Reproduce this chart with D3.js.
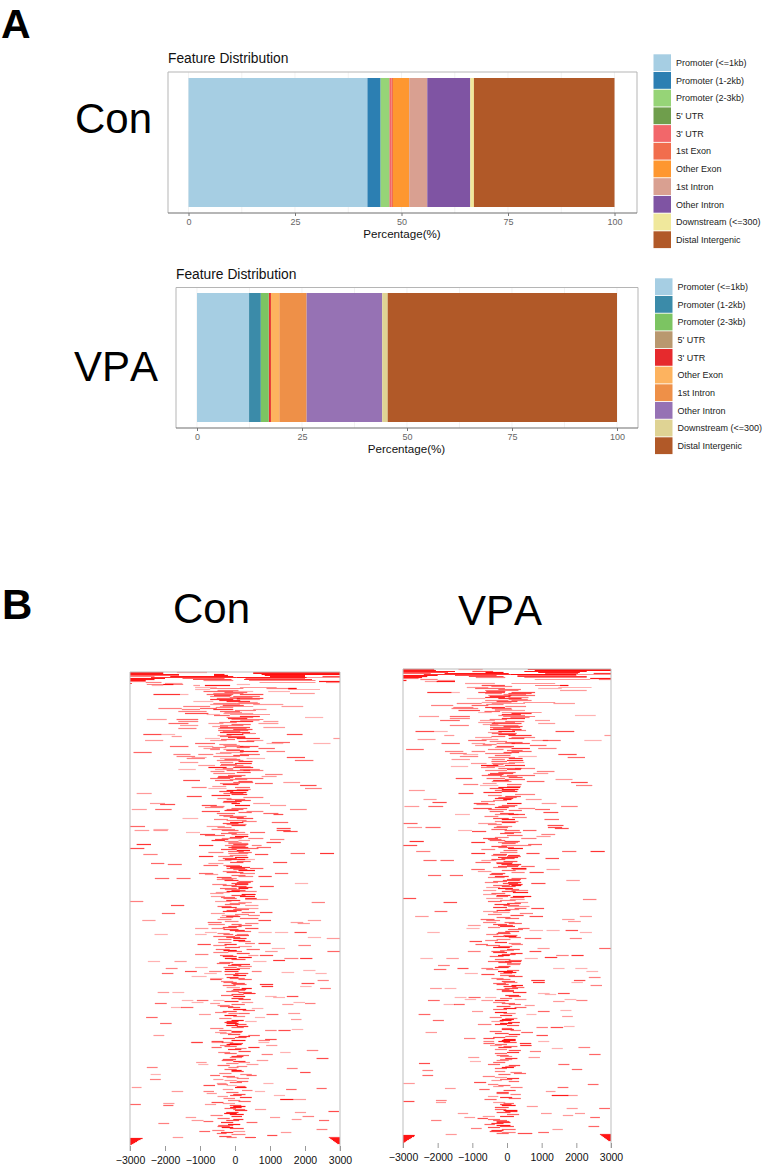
<!DOCTYPE html>
<html>
<head>
<meta charset="utf-8">
<script src="https://cdnjs.cloudflare.com/ajax/libs/d3/7.8.5/d3.min.js"></script>
<style>
html,body{margin:0;padding:0;background:#fff}
svg{display:block}
text{font-family:"Liberation Sans",Arial,sans-serif;font-kerning:none}
</style>
</head>
<body>
<svg id="fig" width="763" height="1167"></svg>
<script>
// Genomic feature shares, in percent of peaks
const conFeatures = ["Promoter (<=1kb)","Promoter (1-2kb)","Promoter (2-3kb)","5' UTR","3' UTR","1st Exon","Other Exon","1st Intron","Other Intron","Downstream (<=300)","Distal Intergenic"];
const conShares = [42,3.1,2,0.1,0.5,0.3,3.8,4.25,10.1,0.85,33];
const conColors = ["#a6cee3","#2c7fb2","#96d477","#6f9e4c","#f2676a","#f16d4d","#fe9730","#d9a091","#7f54a3","#f0e89c","#b15928"];

const vpaFeatures = ["Promoter (<=1kb)","Promoter (1-2kb)","Promoter (2-3kb)","5' UTR","3' UTR","Other Exon","1st Intron","Other Intron","Downstream (<=300)","Distal Intergenic"];
const vpaShares = [12.4,2.8,1.9,0.05,0.45,2,6.5,18,1.3,54.6];
const vpaColors = ["#a6cee3","#3b8ba9","#7cc462","#b9986f","#e62a2d","#fdb35f","#ee9048","#9672b4","#dfd394","#b15928"];

const shareTicks = [0,25,50,75,100];
const distanceTicks = [-3000,-2000,-1000,0,1000,2000,3000];

// Peak tracks around the TSS: [peak rank, start bp, end bp, signal]
const conPeaks = [
[0,-3000,-2050,.9],[0,-1660,-800,.4],[0,520,3000,.9],[1,-3000,-2050,.9],[1,520,3000,.9],[2,-3000,-1600,.9],[2,-600,-300,.9],[2,760,3000,.95],[3,-3000,-1600,.6],[3,-600,-200,.9],[3,850,2000,.9],[4,-3000,-2300,.5],[4,-1850,-50,.9],[4,1000,2000,.9],[4,2500,3000,.7],[5,-2400,50,.8],[5,50,2050,.9],[5,2050,3000,.4],[6,-3000,-2000,.9],[6,-1500,-300,.6],[6,300,2000,.6],[7,-3000,-2300,.9],[7,-1200,-100,.7],[7,260,2200,.8],[8,-3000,-2550,.9],[8,-900,-50,.5],[8,400,2300,.5],[9,-3000,-2550,.5],[9,2400,3000,.9],[10,-2550,-2100,.5],[10,700,2300,.4],[10,2600,3000,.4],[11,-3000,-2950,.9],[11,-2000,-1500,.4],
[12,-2520,-1480,.5],[12,-2050,-1760,.9],[12,50,430,.3],[13,-2380,-2050,.3],[13,-1190,-1000,.4],[13,-860,-140,.9],[15,-1140,-520,.3],[15,140,1190,.4],[16,900,1760,.5],[16,1520,1760,.9],[16,-710,240,.5],[17,1520,2430,.3],[17,-1140,-710,.3],[19,-900,-50,.6],[19,-50,520,.3],[19,950,1570,.3],[21,-620,240,.5],[21,1570,2280,.4],[22,-2330,-1570,.8],[22,-1570,-1330,.3],[22,-810,-50,.6],[22,140,810,.7],[24,-710,-140,.5],[24,-50,710,.6],[26,-520,140,.6],[26,50,810,.7],[27,-710,-50,.8],[27,50,710,.4],[29,-1190,-620,.3],[29,-240,430,.8],[31,-620,50,.5],[31,50,710,.5],[32,-710,140,.4],[32,520,1380,.4],[34,-1480,-710,.5],[34,-430,520,.4],[34,1330,1950,.4],[36,-2190,-1520,.5],[36,-1000,-520,.6],[37,-1520,-1000,.5],[37,-620,-50,.8],[37,520,900,.4],[39,-1620,-810,.5],[39,-430,140,.6],[41,-1430,-760,.7],[41,-330,520,.4],[42,-810,-430,.3],[42,-140,1000,.4],[44,140,710,.8],[45,2000,2520,.3],[45,-240,520,.5],[47,-2520,-1950,.4],[47,-1670,-1050,.6],[47,-100,810,.5],[49,-1620,-1050,.5],[49,-140,520,.8],[49,810,1240,.4],[51,-1900,-1330,.6],[51,-760,-330,.4],[51,670,1240,.4],[53,-1570,-1050,.4],[53,-430,240,.5],[55,-430,430,.7],[55,810,1430,.4],[56,-1620,-1100,.5],[56,-480,330,.5],[58,-480,380,.6],[60,-430,430,.8],[62,-2620,-2100,.7],[62,-2100,-1710,.3],[62,1480,1930,.7],[62,-240,240,.9],[64,-430,290,.6],[64,-1810,-1520,.4],[66,-860,-430,.3],[66,50,710,.8],[66,2810,3000,.4],[68,-2570,-2050,.4],[68,-710,-240,.4],[68,330,810,.4],[70,1050,1570,.6],[71,-1140,-570,.6],[71,2240,2730,.3],[71,900,1380,.3],[73,-330,140,.4],[74,-1860,-1330,.6],[74,-1050,-620,.4],[74,-290,240,.5],[74,140,670,.7],[76,-900,-430,.4],[76,670,1140,.6],[77,-710,-430,.5],[77,-330,140,.4],[79,140,670,.8],[79,900,1430,.5],[80,-2900,-2380,.6],[80,-430,240,.4],[82,-1760,-1270,.5],[82,-1050,-620,.5],[82,140,710,.6],[84,-620,140,.5],[84,-1670,-1140,.5],[85,1480,2000,.7],[85,-1240,-810,.3],[86,-1380,-860,.5],[86,330,860,.3],[86,-430,50,.3],[88,1710,2240,.6],[88,-520,240,.5],[90,-1570,-1050,.4],[90,-430,-50,.5],[91,0,480,.8],[93,-1050,-570,.4],[93,-430,240,.5],[95,-760,-240,.9],[95,-50,520,.8],[97,-1620,-1120,.3],[97,-570,-50,.4],[97,140,710,.5],[98,-240,430,.6],[98,240,810,.5],[101,-620,0,.5],[102,860,1360,.5],[104,-480,190,.7],[104,760,1190,.4],[106,-710,-140,.6],[106,0,810,.6],[108,-1480,-1000,.7],[108,-570,-50,.6],[110,1380,1860,.4],[110,-50,520,.6],[111,-430,140,.5],[111,570,1080,.6],[113,1860,2330,.7],[115,-1240,-810,.5],[115,0,430,.6],[116,-760,-240,.3],[116,2000,2480,.5],[118,-240,380,.9],[120,-140,330,.9],[121,-2810,-2380,.4],[121,-330,240,.6],[123,-670,-140,.8],[124,-1380,-950,.7],[125,240,810,.5],[127,-240,290,.6],[129,-330,190,.8],[131,-2430,-2000,.4],[131,520,1000,.4],[131,-100,140,.9],[132,-2140,-1710,.7],[133,-950,-520,.7],[133,0,430,.9],[133,1000,1460,.4],[135,-860,-330,.5],[137,-2950,-2520,.4],[137,-2280,-1810,.6],[137,1570,2050,.5],[137,-240,240,.6],[139,-950,-430,.7],[139,330,810,.5],[141,810,1240,.6],[141,-520,0,.6],[142,1100,1380,.7],[144,-330,330,.5],[146,-1500,-1050,.3],[146,50,520,.7],[148,-240,330,.5],[150,1050,1520,.6],[150,-140,240,.9],[152,-240,330,.5],[154,-3000,-2570,.6],[154,-810,-290,.4],[156,1190,1590,.7],[157,-2330,-1900,.3],
[157,-670,0,.5],[158,-2870,-2450,.4],[158,-2330,-1920,.4],[158,-380,100,.6],[158,1190,1590,.7],[159,1380,1790,.7],[160,-190,290,.5],[160,-1400,-1000,.3],[160,430,860,.6],[162,-1000,-570,.7],[162,-100,380,.5],[163,-860,-290,.6],[164,0,380,.9],[166,-380,190,.5],[166,380,810,.5],[167,-570,-190,.7],[167,1000,1410,.5],[168,-670,-290,.8],[168,100,430,.4],[170,900,1310,.7],[170,-190,190,.4],[171,-190,380,.5],[172,-2810,-2400,.8],[172,-50,380,.7],[173,-1030,-620,.8],[173,-290,330,.5],[173,480,760,.5],[175,-190,380,.8],[175,620,1030,.6],[176,-3000,-2590,.7],[176,-100,670,.6],[178,50,430,.9],[180,-760,-330,.5],[180,100,480,.6],[181,-190,380,.5],[181,1590,2000,.6],[181,2430,2830,.8],[182,-2620,-2210,.5],[182,570,950,.7],[184,-1030,-620,.8],[184,-480,-50,.5],[185,0,380,.9],[187,-290,290,.8],[187,100,570,.3],[188,-480,-100,.4],[190,1090,1490,.7],[190,-140,240,.7],[191,-2400,-2020,.6],[191,-760,-330,.4],[192,-1920,-1520,.6],[193,-900,-480,.6],[193,-330,140,.5],[195,-140,430,.8],[196,-240,290,.7],[196,430,810,.6],[198,100,570,.9],[200,-240,240,.7],[201,-1030,-620,.6],[201,140,570,.5],[201,1140,1520,.6],[202,-860,-480,.4],[204,670,1050,.7],[204,100,520,.5],[205,-520,-100,.7],[206,-2290,-1880,.6],[206,-1670,-1270,.6],[206,-380,50,.5],[207,-520,-50,.5],[209,100,520,.6],[211,1710,2090,.3],[211,-100,380,.7],[212,-650,-240,.5],[212,0,380,.8],[214,710,1110,.7],[214,-100,330,.7],[216,-430,50,.6],[216,100,380,.9],[217,-290,140,.5],[219,-240,140,.9],[219,140,620,.5],[221,-710,-330,.4],[222,190,590,.9],[224,-690,-290,.4],[224,140,570,.9],[226,-330,50,.6],[226,290,620,.8],[227,290,950,.4],[229,-3000,-2620,.5],[229,-570,-100,.4],[230,100,480,.4],[230,2190,2570,.5],[232,-290,140,.6],[233,-1830,-1450,.7],[233,290,670,.4],[235,-380,50,.8],[236,0,670,.4],[238,-240,190,.7],[240,710,1070,.7],[240,190,570,.6],[241,-2090,-1710,.6],[241,-690,-290,.4],[243,-380,100,.4],[243,380,710,.5],[245,-430,-50,.5],[246,140,670,.6],[248,-2650,-2270,.4],[248,2080,2460,.4],[248,670,1030,.7],[249,-290,100,.5],[250,-780,-380,.6],[250,1590,1950,.4],[251,290,670,.5],[251,1790,2140,.4],[252,-760,-290,.5],[252,-100,190,.6],[254,-190,190,.7],[256,-670,-290,.5],[256,290,670,.7],[256,-1140,-760,.4],[257,-330,100,.7],[259,0,460,.6],[260,-860,-520,.3],[260,670,1050,.3],[260,1140,1520,.3],[260,1700,2050,.7],[262,-1140,-810,.3],[262,-330,-50,.6],[262,50,380,.5],[262,-2300,-1920,.3],
[264,-620,0,.6],[265,2080,2460,.3],[266,2620,3000,.4],[266,-50,330,.8],[267,-480,-100,.6],[268,-50,290,.9],[270,-480,-100,.5],[271,670,1020,.7],[271,290,570,.5],[272,-1070,-690,.7],[273,-620,-240,.5],[273,1810,2170,.5],[274,100,480,.4],[275,-290,140,.7],[276,1050,1430,.3],[277,330,710,.6],[278,-330,50,.9],[279,860,1220,.4],[279,2640,3000,.6],[280,-620,-190,.5],[282,-1140,-760,.5],[283,-430,-50,.6],[283,710,1090,.7],[283,380,670,.4],[285,100,480,.9],[286,1410,1810,.5],[286,1860,2210,.8],[286,-290,50,.9],[288,1090,1430,.8],[289,-2490,-2140,.3],[289,-1730,-1380,.4],[289,520,900,.3],[291,-520,-140,.6],[292,-100,430,.8],[294,100,480,.5],[295,-1140,-780,.3],[295,-330,50,.6],[296,-1980,-1640,.5],[297,-290,140,.9],[298,1950,2300,.3],[299,-1430,-1090,.7],[299,-740,-380,.5],[299,480,760,.5],[300,1330,1690,.3],[301,-880,-520,.3],[301,0,380,.7],[301,-2090,-1760,.6],[301,2300,2620,.3],[302,-290,100,.6],[304,-1240,-810,.3],[305,-240,100,.8],[306,-710,-330,.3],[307,-710,-380,.7],[307,100,480,.6],[308,2360,2680,.5],[310,-330,50,.6],[311,1900,2270,.7],[312,710,1090,.8],[312,-50,330,.6],[314,1860,2190,.3],[314,760,1090,.8],[315,-240,140,.4],[316,2430,2740,.5],[316,190,480,.9],[318,-100,290,.5],[320,-2210,-1880,.4],[320,-1790,-1450,.3],[320,100,480,.7],[321,240,590,.8],[324,-50,290,.9],[324,1480,1810,.7],[324,860,1190,.3],[325,1090,1430,.3],[326,-100,240,.8],[328,-1520,-1190,.3],[328,-1090,-760,.6],[328,-620,-300,.3],[330,-1240,-900,.3],[330,190,520,.4],[330,1670,2000,.3],[331,-2290,-1950,.6],[331,-710,-430,.4],[331,2000,2300,.5],[332,1350,1670,.4],[334,-430,-50,.6],[335,-1830,-1520,.3],[335,-1540,-1190,.6],[336,480,810,.3],[338,220,570,.6],[340,-570,-240,.5],[341,1520,1860,.4],[341,-190,100,.5],[342,-1030,-690,.4],[342,900,1240,.6],[344,-50,290,.5],[345,-2540,-2210,.6],[345,570,860,.3],[347,1600,1900,.4],[349,-240,100,.8],[349,290,620,.3],[351,-2140,-1810,.6],[351,-240,100,.9],[354,50,380,.8],[356,-710,-330,.5],[357,1620,1950,.3],[358,1240,1590,.7],[358,860,1190,.5],[360,-570,-240,.4],[360,-100,190,.6],[361,-430,-100,.4],[363,-2330,-2020,.4],[363,380,710,.6],[365,0,330,.7],[367,860,1190,.7],[368,670,1000,.5],[369,-670,-330,.7],[370,-1240,-920,.5],[370,-380,-50,.5],
[370,-1260,-920,.5],[370,-670,-330,.4],[370,670,980,.3],[372,-240,100,.9],[372,-190,190,.9],[373,-430,-140,.5],[373,890,1210,.4],[375,-670,-380,.6],[375,380,700,.8],[376,0,330,.5],[378,2050,2380,.5],[380,-480,-140,.5],[380,1290,1590,.3],[382,760,1080,.5],[384,-100,240,.8],[386,2330,2670,.7],[388,-380,-50,.6],[388,620,950,.4],[390,-1110,-810,.4],[390,100,430,.4],[392,-1050,-760,.3],[392,330,670,.4],[395,-2520,-2210,.5],[395,-190,100,.5],[396,1480,1790,.5],[398,-100,190,.9],[400,1860,2160,.7],[402,-2410,-2120,.3],[403,-710,-430,.6],[403,330,620,.6],[405,-240,100,.4],[407,-2430,-2120,.5],[407,-620,-330,.4],[409,50,380,.6],[411,810,1100,.3],[411,-520,-240,.4],[413,-900,-570,.7],[413,-240,50,.3],[415,-2950,-2670,.4],[415,0,330,.9],[416,2330,2620,.6],[417,1460,1760,.6],[419,-1810,-1480,.4],[419,-900,-600,.5],[419,570,860,.3],[421,-810,-520,.4],[423,1110,1430,.3],[423,-140,190,.7],[425,140,480,.8],[426,-330,0,.5],[427,1290,1670,.9],[427,1670,2030,.4],[430,-670,-330,.7],[431,-2050,-1730,.4],[432,-3000,-2690,.6],[432,-860,-540,.4],[433,-2050,-1760,.6],[435,-140,190,.9],[437,570,890,.4],[437,-50,290,.6],[439,2670,2970,.7],[440,1710,2030,.4],[441,-310,50,.9],[444,1930,2260,.5],[445,-1410,-1110,.4],[445,1000,1290,.4],[447,1620,1900,.4],[447,-50,240,.8],[448,2400,2690,.6],[448,-1240,-900,.4],[449,-900,-620,.6],[450,330,640,.6],[451,-2190,-1880,.5],[453,-480,-50,.6],[455,-380,-50,.9],[457,2330,2640,.5],[459,-1020,-710,.6],[459,-50,290,.4],[460,1310,1610,.4],[461,-520,-240,.6],[463,920,1210,.7],[465,290,600,.7],[465,-1780,-1480,.4],[465,-240,50,.5],
[465,2680,3000,.7],[466,-3000,-2640,.9],[466,2720,3000,.9],[467,-3000,-2700,.9],[467,2760,3000,.9],[468,-3000,-2760,.9],[468,2800,3000,.9],[469,-3000,-2800,.9],[469,2840,3000,.9],[470,-3000,-2850,.9],[470,2880,3000,.9],[471,-3000,-2900,.9],[471,2920,3000,.9],[472,-3000,-2950,.9]
];

// Densely packed peaks close to the TSS
const conCore = [
[18,-500,100,.5],[20,-300,350,.6],[23,-600,-100,.7],[25,-150,500,.5],[28,-450,150,.8],[30,100,650,.4],[33,-350,250,.7],[35,-550,-50,.5],[38,0,600,.5],[40,-300,200,.4],[43,-600,-150,.6],[46,-200,350,.8],[48,150,700,.4],[50,-450,50,.5],[52,-100,450,.6],[54,-650,-200,.4],[57,-50,500,.7],[59,-350,150,.5],[61,200,600,.5],[63,-500,-100,.4],[65,-200,300,.8],[67,-400,0,.6],[69,100,550,.7],[72,-450,50,.5],[75,-650,-250,.5],[75,50,420,.6],[78,-250,250,.7],[81,-550,-100,.4],[83,-50,400,.7],[87,-300,150,.6],[89,100,500,.8],[92,-400,50,.6],[94,0,450,.4],[96,-350,-50,.5],[99,-700,-300,.5],[100,50,450,.7],[103,-200,300,.6],[105,-500,-50,.7],[107,-150,350,.5],[109,100,500,.7],[112,-350,100,.8],[114,-650,-250,.4],[117,50,450,.5],[119,-450,-50,.7],[122,-100,350,.8],[126,-500,-100,.5],[128,0,450,.7],[130,-350,50,.5],[134,-700,-300,.5],[136,-100,350,.6],[138,-300,100,.8],[140,100,480,.6],[143,-450,-50,.6],[145,-150,250,.7],[147,-600,-200,.5],[149,200,620,.5],[151,-350,100,.7],[153,-100,300,.8],[155,-500,-100,.5],
[161,-400,50,.6],[165,-150,250,.7],[169,-300,100,.5],[174,-100,300,.6],[177,-400,50,.7],[179,-200,250,.6],[183,-150,350,.5],[186,-350,50,.7],[189,50,450,.6],[194,-250,200,.8],[197,-50,350,.6],[199,-350,50,.5],[203,-100,300,.6],[208,-300,100,.8],[210,50,450,.7],[213,-350,50,.6],[215,100,500,.8],[218,-100,300,.7],[220,-550,-150,.4],[223,-100,300,.7],[225,-400,0,.6],[228,-250,150,.8],[231,-150,300,.5],[234,-500,-100,.6],[237,-50,400,.6],[239,-350,50,.8],[242,0,400,.5],[244,-250,150,.8],[247,-500,-100,.5],[253,100,480,.6],[255,-350,50,.7],[258,-150,280,.8],[261,-500,-150,.5],[263,0,400,.7],[265,-250,150,.7],[269,100,450,.6],[272,-300,50,.8],
[277,-550,-150,.6],[279,-200,200,.6],[281,50,420,.7],[284,-350,50,.8],[287,-100,300,.7],[290,-450,-50,.6],[293,-200,180,.7],[296,50,430,.5],[299,-300,100,.8],[303,-50,320,.9],[306,-150,280,.6],[309,-400,-50,.5],[311,-100,280,.7],[313,-350,20,.6],[317,-50,320,.8],[319,-250,120,.6],[322,-100,250,.7],[323,-400,-50,.6],[327,100,450,.7],[329,-300,100,.8],[332,-100,280,.6],[333,-500,-150,.5],[335,-200,150,.7],[337,-50,320,.9],[339,-350,50,.7],[341,100,420,.6],[343,-300,50,.9],[346,-450,-100,.5],[348,-100,250,.9],[350,-300,50,.8],[352,0,330,.7],[353,-250,80,.9],[355,-100,250,.6],[358,-450,-100,.6],[359,-100,220,.8],[362,-200,150,.7],[364,100,430,.8],[366,-350,0,.7],[368,-100,300,.9],
[371,-150,230,.7],[374,-300,50,.6],[377,-200,180,.8],[379,100,450,.7],[381,-300,50,.6],[383,50,400,.6],[385,-150,200,.5],[387,-350,30,.7],[389,-50,300,.8],[391,-250,100,.5],[393,-500,-150,.6],[394,50,350,.5],[397,-300,50,.6],[399,-100,250,.7],[401,-450,-100,.5],[402,150,480,.5],[404,-350,0,.6],[406,50,400,.5],[408,-300,50,.4],[410,-150,200,.6],[412,-500,-200,.5],[414,50,300,.6],[417,-350,-50,.4],[418,200,500,.5],[420,-250,100,.6],[422,-50,300,.7],[424,-500,-200,.4],[428,-200,150,.5],[429,100,450,.6],[431,-350,0,.4],[433,-150,180,.7],[434,-50,300,.9],[436,-300,30,.6],[438,0,350,.8],[440,-250,100,.8],[442,-150,250,.9],[443,-700,-350,.5],[444,-100,200,.8],[446,-500,-150,.6],[448,-250,120,.7],[450,-400,-50,.8],[452,-200,150,.9],[454,-500,-150,.6],[456,-150,250,.7],[458,-650,-300,.5],[460,-400,-50,.8],[462,-100,300,.5],[464,-450,-100,.7]
];

const vpaPeaks = [
[0,-3000,-2100,.9],[0,-1400,-700,.4],[0,600,3000,.95],[1,-3000,-2050,.9],[1,800,3000,.95],[2,-3000,-1500,.9],[2,-1000,-400,.7],[2,500,2300,.9],[3,-3000,-1700,.7],[3,-620,-100,.95],[3,900,2100,.9],[4,-3000,-2200,.6],[4,-1800,50,.9],[4,1100,2050,.7],[4,2500,3000,.8],[5,-2400,100,.8],[5,100,2000,.95],[5,2000,3000,.4],[6,-3000,-2000,.9],[6,-1500,-300,.7],[6,300,2000,.6],[7,-3000,-2300,.9],[7,-1100,-100,.7],[7,300,2300,.8],[8,-3000,-2450,.9],[8,-900,-50,.5],[8,500,2300,.5],[9,-3000,-2550,.5],[9,2400,3000,.9],[10,-2500,-2000,.5],[10,800,2400,.4],[10,2650,3000,.5],[11,-3000,-2900,.9],[11,-2000,-1500,.4],
[12,-2030,-1500,.9],[12,-2370,-1980,.4],[14,-1210,-350,.4],[14,130,1390,.4],[16,-730,-60,.7],[16,810,1770,.5],[16,1530,1770,.9],[18,-1160,-540,.4],[18,1480,2440,.3],[19,-920,-60,.6],[19,900,1580,.3],[21,-630,330,.5],[21,1530,2300,.4],[23,-2300,-1600,.8],[23,-1600,-1360,.3],[23,-830,-60,.7],[23,130,810,.7],[24,-630,-150,.5],[24,40,710,.7],[26,-540,130,.5],[26,40,810,.6],[28,-630,-60,.8],[28,40,620,.5],[29,-1160,-630,.3],[29,-250,420,.8],[31,-630,40,.5],[31,130,710,.5],[33,-730,130,.4],[33,470,1390,.4],[34,-1450,-730,.5],[34,-440,520,.4],[34,1340,1960,.4],[36,-2190,-1550,.5],[36,-1020,-540,.6],[38,-1550,-970,.5],[38,-630,-60,.8],[39,-1600,-830,.5],[39,-440,130,.6],[41,-1400,-780,.7],[41,-350,520,.4],[43,-830,-440,.3],[43,-150,1000,.4],[44,130,710,.8],[46,1960,2560,.3],[46,-250,520,.5],[47,-2540,-1960,.4],[47,-1650,-1070,.6],[47,-110,810,.5],[49,-1650,-1070,.5],[49,-150,520,.8],[51,-1930,-1360,.6],[51,810,1240,.4],[51,-780,-350,.4],[53,-830,-350,.4],[53,-390,230,.5],[54,900,1390,.4],[54,-440,420,.7],[56,-1650,-1100,.5],[56,-490,330,.5],[58,-490,380,.6],[60,-490,420,.8],[62,-2640,-2100,.7],[62,-2100,-1710,.3],[62,1400,1940,.7],[62,-250,230,.9],[64,-440,280,.6],[66,-1810,-1520,.4],[66,40,710,.8],[66,2810,3000,.4],[68,-920,-440,.4],[68,130,810,.5],[70,-2580,-2060,.4],[70,-730,-250,.4],[71,1030,1550,.6],[71,-1120,-590,.6],[71,2230,2730,.3],[71,710,1190,.4],[74,-1890,-1360,.6],[74,-1020,-630,.4],[74,-300,230,.5],[74,130,660,.7],[76,-920,-440,.4],[76,660,1140,.6],[78,-350,130,.4],[79,900,1430,.5],[79,130,660,.8],[80,-2910,-2400,.6],[82,-1790,-1260,.5],[82,-1020,-630,.5],[82,130,710,.6],[84,-630,130,.5],[84,-1650,-1160,.5],[85,1480,2010,.7],[85,-1260,-830,.3],[87,-1360,-830,.5],[87,330,860,.3],[88,1750,2250,.6],[88,-540,230,.5],[90,-1600,-1070,.4],[90,-440,-60,.5],[91,0,470,.8],[94,-1040,-590,.4],[94,-440,230,.5],[96,-750,-250,.9],[96,-60,520,.8],[97,-1620,-1120,.3],[97,-590,-60,.4],[99,-250,420,.6],[99,230,810,.5],[101,-630,0,.5],[102,860,1370,.5],[104,-490,180,.7],[104,760,1190,.4],[106,-730,-150,.6],[106,0,810,.6],[109,-1480,-1000,.7],[109,-590,-60,.6],[110,1400,1890,.4],[110,-60,520,.6],[112,-440,130,.5],[112,570,1080,.6],[113,1850,2330,.7],[115,-1260,-830,.5],[115,0,420,.6],[116,-780,-250,.3],[116,1990,2460,.5],[118,-250,380,.9],[120,-150,330,.9],[121,-2830,-2370,.4],[121,-350,230,.6],[123,-680,-150,.8],[124,-1400,-970,.7],[125,230,810,.5],[128,-250,280,.6],[129,-350,180,.8],[130,-2410,-2030,.4],[130,540,1000,.4],[130,-110,130,.9],[133,-2150,-1740,.7],[134,-960,-540,.7],[134,0,420,.9],[134,1000,1430,.4],[135,-880,-350,.5],[137,-2960,-2530,.4],[137,-2270,-1840,.6],[137,1560,2040,.5],[137,-250,230,.6],[139,-970,-440,.7],[139,330,810,.5],[140,810,1240,.6],[140,-540,0,.6],[143,1050,1480,.7],[145,-350,330,.5],[145,-1500,-1070,.3],[145,40,520,.7],[150,1080,1500,.6],[150,-150,230,.9],[152,-350,330,.5],[154,-2990,-2580,.6],[154,-830,-300,.4],[156,1170,1630,.7],[158,-2350,-1930,.3],
[158,-2880,-2450,.4],[158,-2350,-1910,.4],[158,-380,30,.6],[158,1180,1590,.7],[159,1380,1780,.7],[161,-1410,-1010,.3],[161,460,850,.6],[161,-70,370,.6],[162,-1010,-600,.7],[163,-70,410,.6],[165,990,1390,.5],[167,850,1260,.4],[169,-690,-260,.7],[169,410,850,.5],[170,-550,-160,.6],[172,-2810,-2400,.8],[172,-70,370,.7],[173,-1030,-630,.8],[173,-260,320,.5],[175,610,1010,.6],[176,-3000,-2590,.7],[176,-160,700,.5],[179,30,460,.9],[180,-740,-340,.5],[182,1590,2000,.6],[182,2410,2820,.8],[182,-2620,-2210,.5],[184,-1030,-630,.8],[184,560,940,.7],[186,-450,-20,.5],[186,30,370,.8],[188,-260,320,.8],[189,1110,1500,.7],[189,-160,220,.7],[191,-2410,-2030,.6],[191,-740,-310,.4],[191,-1920,-1530,.6],[193,-910,-470,.6],[193,-310,170,.5],[195,-160,410,.8],[197,410,800,.6],[197,-260,320,.7],[199,130,560,.9],[200,-1030,-640,.6],[200,170,560,.5],[200,1140,1520,.4],[202,-840,-450,.4],[203,650,1060,.7],[203,130,510,.5],[205,-500,-120,.7],[206,-2280,-1900,.6],[206,-1650,-1270,.6],[208,-550,-70,.5],[209,130,560,.6],[211,1710,2100,.4],[211,-120,370,.7],[213,-640,-260,.5],[213,30,410,.8],[214,700,1110,.7],[214,-120,320,.7],[216,-400,80,.6],[216,130,410,.9],[219,-260,170,.9],[221,-690,-310,.4],[221,130,610,.5],[223,170,610,.9],[225,-690,-310,.4],[227,170,700,.9],[227,-310,30,.6],[229,-3000,-2620,.7],[229,-600,-120,.4],[230,2190,2580,.5],[230,80,510,.4],[233,-1830,-1440,.7],[233,220,610,.4],[235,-360,80,.8],[237,30,650,.4],[239,700,1070,.7],[239,220,560,.6],[242,-2090,-1720,.6],[242,-690,-260,.4],[243,-400,80,.4],[244,370,750,.5],[247,-2650,-2260,.4],[247,2100,2450,.4],[247,650,1040,.7],[250,1590,1950,.4],[250,-760,-360,.6],[252,1760,2130,.4],[253,-690,-310,.5],[253,-70,220,.6],[256,-1130,-760,.4],[256,-260,170,.7],[259,-1170,-790,.3],[259,320,650,.6],[260,30,460,.6],[261,650,1040,.3],[261,1140,1520,.3],[261,1690,2050,.7],[263,-2300,-1940,.3],[263,-260,80,.6],[263,2100,2450,.3],
[267,-400,-70,.7],[267,-70,270,.9],[269,1810,2160,.5],[269,510,990,.6],[270,-300,100,.5],[271,-630,-260,.5],[272,-1080,-720,.7],[274,50,400,.5],[275,-910,-550,.6],[275,130,460,.5],[278,-400,80,.9],[279,880,1230,.4],[279,2660,3000,.6],[281,-200,200,.5],[282,-1130,-760,.5],[282,-450,-70,.6],[282,650,990,.7],[284,100,450,.8],[286,1420,1780,.5],[286,1860,2210,.8],[286,-260,80,.9],[288,1090,1450,.8],[289,-2500,-2140,.3],[289,-1750,-1390,.4],[289,510,890,.3],[290,-350,100,.6],[292,-550,-70,.6],[292,-70,410,.8],[294,0,400,.5],[296,-1990,-1650,.5],[297,-250,100,.7],[299,-1430,-1110,.7],[299,-740,-400,.5],[299,1330,1660,.3],[299,1970,2320,.3],[300,-2110,-1750,.6],[301,0,350,.6],[302,-260,170,.9],[302,2290,2630,.3],[304,-1220,-840,.3],[304,-200,150,.5],[305,-740,-360,.7],[307,50,450,.7],[308,2360,2700,.5],[310,-300,100,.6],[311,1930,2260,.7],[311,700,1090,.8],[313,1860,2190,.3],[313,750,1090,.8],[313,-100,300,.5],[315,-300,50,.7],[316,2410,2740,.5],[316,130,460,.9],[318,150,500,.6],[319,-2220,-1880,.4],[319,-1800,-1460,.3],[319,-70,320,.7],[321,-150,200,.7],[323,170,560,.8],[324,1470,1810,.7],[324,890,1230,.3],[325,1090,1420,.3],[326,-50,350,.8],[328,-1510,-1170,.3],[328,-1110,-760,.6],[328,-630,-310,.3],[329,-200,150,.6],[330,-1220,-890,.3],[330,220,560,.4],[330,1660,2000,.3],[331,-2280,-1940,.6],[331,2000,2320,.5],[331,-740,-400,.4],[332,1330,1660,.4],[333,-400,-50,.5],[335,-1830,-1510,.3],[335,-1530,-1220,.6],[335,50,400,.6],[336,510,800,.4],[337,-300,100,.7],[338,220,560,.6],[340,-400,0,.6],[341,1540,1860,.3],[342,-1010,-690,.4],[342,890,1230,.6],[344,-100,250,.5],[345,-2550,-2210,.6],[345,560,850,.3],[346,-200,150,.8],[347,1590,1900,.4],[349,-50,300,.5],[351,-2140,-1820,.6],[351,-210,130,.9],[352,-450,-100,.4],[353,30,370,.8],[354,-200,150,.9],[355,-840,-450,.5],[356,0,350,.7],[357,1640,1950,.3],[358,1260,1620,.7],[358,850,1180,.5],[359,-150,150,.6],[361,100,400,.5],[363,-2350,-2020,.4],[363,410,750,.6],[364,-350,50,.7],[366,850,1180,.7],[367,-50,300,.6],[369,-1240,-910,.5],[369,-680,-360,.7],[370,-100,250,.9],
[372,-680,-370,.5],[372,900,1220,.3],[372,-250,90,.9],[374,-680,-360,.6],[374,370,700,.8],[376,380,710,.8],[376,-490,-150,.4],[377,-100,300,.6],[378,2060,2400,.5],[379,1290,1610,.3],[380,-350,0,.5],[382,660,980,.5],[383,0,350,.8],[385,2370,2700,.6],[386,-300,50,.6],[388,-1120,-800,.4],[388,620,950,.4],[390,-200,150,.5],[392,-1070,-750,.3],[393,-400,-50,.6],[394,-2540,-2220,.7],[395,1480,1800,.6],[396,50,380,.7],[398,-150,200,.9],[400,1870,2170,.6],[401,-2440,-2130,.5],[402,-350,-50,.5],[404,200,550,.6],[406,-2440,-2130,.6],[407,-700,-350,.5],[409,0,350,.8],[411,-450,-150,.4],[413,-950,-600,.7],[414,-2990,-2660,.4],[415,2330,2640,.6],[416,-250,100,.6],[418,1460,1770,.6],[418,100,450,.5],[419,-1790,-1480,.4],[420,-800,-500,.6],[422,1120,1400,.4],[423,-300,50,.7],[425,100,400,.5],[426,1290,1770,.9],[426,1750,2040,.4],[428,-200,150,.8],[430,-650,-300,.6],[431,-2050,-1740,.5],[432,-2990,-2670,.7],[433,-2050,-1760,.4],[434,-100,200,.6],[436,-150,250,.9],[437,570,890,.4],[438,-350,50,.7],[439,1720,2040,.4],[439,2660,2970,.6],[441,-100,300,.9],[443,-300,100,.7],[444,1960,2250,.4],[444,980,1290,.4],[444,-1420,-1120,.4],[445,0,350,.6],[446,1610,1910,.4],[447,-700,-350,.4],[448,2400,2680,.6],[448,-1230,-920,.4],[449,-850,-550,.7],[451,-2190,-1890,.5],[451,-400,0,.6],[453,-300,100,.8],[455,-650,-350,.6],[456,-300,100,.9],[457,2350,2660,.6],[458,-550,-200,.7],[459,-1040,-730,.5],[460,1310,1610,.4],[460,-150,250,.6],[462,-500,-150,.7],[463,900,1210,.6],[464,310,730,.7],[464,-300,50,.6],[465,-1770,-1450,.4],
[465,2680,3000,.8],[466,-3000,-2660,.9],[466,2720,3000,.9],[467,-3000,-2680,.9],[467,2760,3000,.9],[468,-3000,-2740,.9],[468,2800,3000,.9],[469,-3000,-2780,.9],[469,2840,3000,.9],[470,-3000,-2830,.9],[470,2880,3000,.9],[471,-3000,-2880,.9],[471,2920,3000,.9],[472,-3000,-2920,.9],[473,-3000,-2960,.9]
];

const vpaCore = [
[17,-450,150,.5],[20,-250,400,.6],[22,-600,-50,.7],[25,-100,550,.5],[27,-500,100,.8],[30,50,600,.5],[32,-300,300,.7],[35,-600,-100,.5],[37,-50,550,.5],[40,-350,150,.4],[42,-650,-200,.6],[45,-150,400,.8],[48,100,650,.5],[50,-500,0,.5],[52,-50,500,.6],[55,-700,-250,.4],[57,-100,450,.7],[59,-400,100,.5],[61,150,550,.5],[63,-550,-150,.4],[65,-250,250,.8],[67,-450,-50,.6],[69,50,500,.7],[72,-500,0,.5],[73,-50,450,.6],[75,-700,-300,.5],[77,-300,200,.7],[80,-550,-100,.5],[81,0,450,.6],[83,-100,350,.7],[86,-350,100,.6],[89,50,450,.8],[92,-450,0,.6],[93,50,500,.4],[95,-400,-100,.5],[98,-750,-350,.5],[100,0,400,.7],[103,-250,250,.6],[105,-550,-100,.7],[107,-200,300,.5],[108,50,450,.7],[111,-400,50,.8],[114,-700,-300,.4],[117,0,400,.5],[119,-500,-100,.7],[122,-150,300,.8],[126,-550,-150,.5],[127,-50,400,.7],[131,-400,0,.5],[132,-750,-350,.5],[136,-150,300,.6],[138,-350,50,.8],[141,50,430,.6],[142,-500,-100,.6],[144,-200,200,.7],[147,-650,-250,.5],[148,150,570,.5],[149,-400,50,.7],[153,-150,250,.8],[155,-550,-150,.5],
[157,-300,150,.5],[160,-450,0,.6],[164,-200,200,.7],[166,0,450,.6],[168,-350,50,.5],[171,-500,-50,.6],[174,-150,250,.6],[177,-450,0,.7],[178,-250,200,.6],[181,-100,300,.6],[183,-200,300,.5],[185,-400,0,.7],[187,0,400,.6],[190,-450,-50,.7],[192,-100,300,.7],[194,-300,150,.8],[196,0,350,.6],[198,-400,0,.5],[201,-150,250,.6],[204,-450,-50,.7],[207,-350,50,.8],[210,0,400,.7],[212,-400,0,.6],[215,50,450,.8],[217,-150,250,.7],[218,-600,-200,.4],[220,-50,350,.6],[222,-150,250,.7],[224,-450,-50,.6],[226,-300,100,.8],[228,100,500,.7],[231,-200,250,.5],[232,-550,-150,.6],[234,0,400,.7],[236,-100,350,.6],[238,-400,0,.8],[240,-50,350,.5],[241,-300,100,.8],[245,-550,-150,.5],[246,100,480,.7],[248,-300,100,.6],[249,-50,350,.6],[251,-600,-200,.5],[254,50,430,.6],[255,-400,0,.7],[257,-200,230,.8],[258,-550,-200,.5],[262,-50,350,.7],[264,-300,100,.7],[265,-600,-250,.5],[266,-100,300,.6],[268,50,400,.6],[273,-350,0,.8],
[276,-600,-200,.6],[277,-250,150,.6],[280,0,370,.7],[283,-400,0,.8],[285,-150,250,.7],[287,-500,-100,.6],[291,50,430,.6],[293,-250,130,.7],[295,0,380,.5],[298,-350,50,.8],[300,-600,-250,.5],[303,-100,270,.9],[306,-200,230,.6],[309,-450,-100,.5],[312,-150,230,.7],[314,-400,-30,.6],[317,-100,270,.8],[320,-300,70,.6],[322,-150,200,.7],[327,50,400,.7],[331,-350,50,.8],[334,-150,230,.6],[339,-100,270,.9],[343,-350,0,.9],[348,-500,-150,.5],[350,-150,200,.9],[355,-350,0,.8],[360,-150,200,.8],[362,-500,-150,.6],[365,50,380,.8],[368,-400,-50,.7],[371,-150,250,.9],
[373,-100,280,.7],[375,-350,0,.6],[378,-250,130,.8],[381,50,400,.7],[384,-350,0,.6],[387,-200,150,.5],[389,-50,300,.8],[391,-300,50,.5],[395,-550,-200,.6],[397,-50,250,.5],[399,-350,0,.6],[403,100,430,.5],[405,-250,100,.6],[408,-350,0,.4],[410,-200,150,.6],[412,50,350,.6],[415,-550,-250,.5],[417,-400,-100,.4],[421,-100,250,.7],[424,-300,50,.6],[427,-550,-250,.4],[429,50,400,.6],[433,-400,-50,.4],[435,-200,130,.7],[440,-350,-20,.6],[442,-50,300,.8],[447,-200,200,.8],[450,-550,-200,.6],[452,-300,70,.7],[454,-450,-100,.8],[457,-200,200,.7],[461,-450,-100,.8],[463,-150,250,.5]
];

const svg = d3.select("#fig");

function label(str, x, y, size, opts = {}) {
  return svg.append("text").attr("x", x).attr("y", y)
    .attr("font-size", size).attr("fill", opts.fill || "#000")
    .attr("font-weight", opts.weight || "normal")
    .attr("text-anchor", opts.anchor || "start").text(str);
}

// Stacked horizontal feature bar with its swatch legend
function featureBar(names, shares, colors, box) {
  const x = d3.scaleLinear().domain([0, 100]).range([box.x0, box.x100]);
  const g = svg.append("g");

  label("Feature Distribution", box.left, box.top - 9, 13.8, {fill: "#111"});

  // panel background lines
  const minor = [12.5, 37.5, 62.5, 87.5];
  g.selectAll("line.grid").data(shareTicks.concat(minor)).join("line")
    .attr("x1", d => x(d)).attr("x2", d => x(d))
    .attr("y1", box.top).attr("y2", box.bottom)
    .attr("stroke", "#ececec").attr("stroke-width", 0.7);

  const stacks = d3.cumsum(shares);
  g.selectAll("rect.seg").data(shares).join("rect")
    .attr("x", (d, i) => x(stacks[i] - d))
    .attr("width", (d, i) => x(stacks[i]) - x(stacks[i] - d))
    .attr("y", box.barTop).attr("height", box.barBottom - box.barTop)
    .attr("fill", (d, i) => colors[i]);

  // frame: light sides and top, heavier baseline
  g.append("path")
    .attr("d", `M${box.left},${box.bottom}V${box.top}H${box.right}V${box.bottom}`)
    .attr("fill", "none").attr("stroke", "#b5b5b5").attr("stroke-width", 1);
  g.append("line").attr("x1", box.left).attr("x2", box.right)
    .attr("y1", box.bottom).attr("y2", box.bottom)
    .attr("stroke", "#6e6e6e").attr("stroke-width", 1.2);

  const axis = svg.append("g").attr("transform", `translate(0,${box.bottom})`)
    .call(d3.axisBottom(x).tickValues(shareTicks).tickSize(3).tickPadding(3));
  axis.select(".domain").remove();
  axis.selectAll("line").attr("stroke", "#777");
  axis.selectAll("text").attr("font-size", 9).attr("fill", "#666")
    .attr("font-family", '"Liberation Sans",Arial,sans-serif');

  label("Percentage(%)", box.xlabelX, box.bottom + 25, 11.6, {anchor: "middle", fill: "#111"});

  const row = d3.scalePoint().domain(names).range([box.legendTop, box.legendBottom]);
  const lg = svg.append("g");
  lg.selectAll("rect").data(names).join("rect")
    .attr("x", box.legendX).attr("y", d => row(d) - 8.4)
    .attr("width", 17.5).attr("height", 16.8)
    .attr("fill", (d, i) => colors[i]);
  lg.selectAll("text").data(names).join("text")
    .attr("x", box.legendX + 22.5).attr("y", d => row(d) + 3.2)
    .attr("font-size", 9).attr("fill", "#222").text(d => d);
}

// Tag-density style track plot around the TSS
function peakTracks(peaks, box) {
  const x = d3.scaleLinear().domain([-3000, 3000]).range([box.left, box.right]);
  const y = d3.scaleLinear().domain([0, 474]).range([box.top, box.bottom]);
  const g = svg.append("g");

  g.selectAll("line").data(peaks).join("line")
    .attr("x1", d => x(d[1])).attr("x2", d => x(d[2]))
    .attr("y1", d => y(d[0]) + 0.5).attr("y2", d => y(d[0]) + 0.5)
    .attr("stroke", "#ff0000").attr("stroke-width", 1.2)
    .attr("stroke-opacity", d => d[3]);

  const frame = `M${box.left},${box.bottom + 5}V${box.top}H${box.right}V${box.bottom + 5}`;
  svg.append("path").attr("d", frame).attr("fill", "none")
    .attr("stroke", "#bdbdbd").attr("stroke-width", 1);

  const axis = svg.append("g").attr("transform", `translate(0,${box.bottom})`)
    .call(d3.axisBottom(x).tickValues(distanceTicks).tickFormat(d3.format("d")).tickSize(5).tickPadding(6));
  axis.select(".domain").remove();
  axis.selectAll("line").attr("stroke", "#9a9a9a");
  axis.selectAll("text").attr("font-size", 10.5).attr("fill", "#111")
    .attr("font-family", '"Liberation Sans",Arial,sans-serif');
}

label("A", 1, 37.5, 41, {weight: "bold"});
label("B", 2, 619, 42, {weight: "bold"});

label("Con", 75, 133, 42);
label("VPA", 74, 381, 42);
label("Con", 173, 623, 42);
label("VPA", 458, 625, 42);

featureBar(conFeatures, conShares, conColors, {
  left: 168, right: 637, top: 72, bottom: 213, x0: 188.5, x100: 614.5, xlabelX: 402,
  barTop: 78, barBottom: 207, legendX: 653.5, legendTop: 62.7, legendBottom: 239.7
});
featureBar(vpaFeatures, vpaShares, vpaColors, {
  left: 176, right: 638, top: 287.5, bottom: 428, x0: 197, x100: 617, xlabelX: 406.5,
  barTop: 293, barBottom: 422, legendX: 655, legendTop: 286.7, legendBottom: 445.7
});

peakTracks(conPeaks.concat(conCore), {left: 130, right: 340, top: 672, bottom: 1146});
peakTracks(vpaPeaks.concat(vpaCore), {left: 403, right: 611, top: 669, bottom: 1143});
</script>
</body>
</html>
